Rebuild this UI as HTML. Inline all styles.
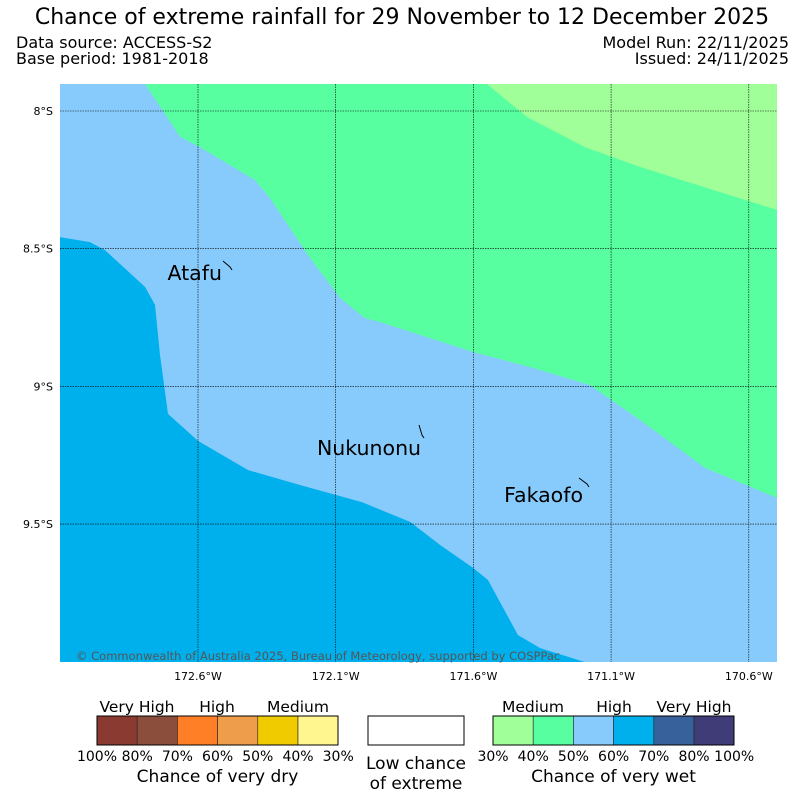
<!DOCTYPE html>
<html><head><meta charset="utf-8"><style>
html,body{margin:0;padding:0;background:#fff;}
svg{display:block;font-family:"DejaVu Sans","Liberation Sans",sans-serif;}
</style></head><body>
<svg id="chart" width="804" height="804" viewBox="0 0 804 804">
<text x="402" y="24" text-anchor="middle" font-size="22">Chance of extreme rainfall for 29 November to 12 December 2025</text>
<text x="16" y="48" font-size="16">Data source: ACCESS-S2</text>
<text x="16" y="64" font-size="16">Base period: 1981-2018</text>
<text x="789" y="48" font-size="16" text-anchor="end">Model Run: 22/11/2025</text>
<text x="789" y="64" font-size="16" text-anchor="end">Issued: 24/11/2025</text>
<defs><clipPath id="mapclip"><rect x="60" y="84" width="717" height="578"/></clipPath></defs>
<g id="map" clip-path="url(#mapclip)">
<rect x="60" y="84" width="717" height="578" fill="#87cbfc"/>
</g>
<g id="grid"></g>
<g id="labels"></g>
<g id="places"></g>
<text x="76" y="660" font-size="11.5" fill="#555">© Commonwealth of Australia 2025, Bureau of Meteorology, supported by COSPPac</text>
<g id="legend"></g>
</svg>
<script>
const darkBlueLon=[173.101,172.992,172.938,172.792,172.756,172.738,172.709,172.600,172.418,172.230,172.005,171.830,171.721,171.601,171.547,171.438,171.358,171.195,173.101];
const darkBlueLat=[8.458,8.476,8.505,8.639,8.704,8.886,9.100,9.198,9.304,9.358,9.420,9.492,9.576,9.659,9.703,9.903,9.950,10.001,10.001];
const greenLon=[172.792,172.665,172.593,172.393,172.339,172.193,172.084,171.994,171.939,171.601,171.394,171.177,170.995,170.759,170.498,170.498];
const greenLat=[7.902,8.094,8.131,8.251,8.316,8.534,8.679,8.752,8.766,8.875,8.930,8.995,9.122,9.296,9.405,7.902];
const lightGreenLon=[171.551,171.405,171.195,170.995,170.777,170.498,170.498];
const lightGreenLat=[7.902,8.022,8.131,8.203,8.272,8.359,7.902];
const lonTicks=[172.6,172.1,171.6,171.1,170.6];
const latTicks=[8,8.5,9,9.5];
const placeNames=["Atafu","Nukunonu","Fakaofo"];
const placeLon=[172.513,171.790,171.202];
const placeLat=[8.614,9.249,9.420];
const dryLabels=["100%","80%","70%","60%","50%","40%","30%"];
const dryColors=["#8b3a32","#8b4d3c","#ff7f27","#ee9e4a","#f0cb00","#fff68f"];
const wetLabels=["30%","40%","50%","60%","70%","80%","100%"];
const wetColors=["#a0ff98","#57ffa0","#87cbfc","#00b0ec","#37619b","#3f3c78"];

const S=275.4;
const xOf=lonW=>198-(lonW-172.6)*S;
const yOf=latS=>111+(latS-8)*S;
const NS="http://www.w3.org/2000/svg";
function mk(tag,attrs,parent){const e=document.createElementNS(NS,tag);for(const k in attrs)e.setAttribute(k,attrs[k]);parent.appendChild(e);return e;}
const map=document.getElementById('map');
function poly(lons,lats,fill,name){
  const pts=lons.map((l,i)=>xOf(l).toFixed(1)+','+yOf(lats[i]).toFixed(1)).join(' ');
  const p=mk('polygon',{points:pts,fill:fill},map);
  
  
}
poly(darkBlueLon,darkBlueLat,"#00b0ec","region-60-70");
poly(greenLon,greenLat,"#57ffa0","region-40-50");
poly(lightGreenLon,lightGreenLat,"#a0ff98","region-30-40");

const grid=document.getElementById('grid'),labels=document.getElementById('labels');
lonTicks.forEach(l=>{
  const x=xOf(l);
  const g=mk('line',{x1:x,x2:x,y1:84,y2:662,stroke:"#000","stroke-width":0.6,"stroke-dasharray":"1.5,1"},grid);
  
  
  const t=mk('text',{x:x,y:680,"font-size":11,"text-anchor":"middle"},labels);
  t.textContent=l.toFixed(1)+"°W";
  
  
});
latTicks.forEach(l=>{
  const y=yOf(l);
  const g=mk('line',{x1:60,x2:777,y1:y,y2:y,stroke:"#000","stroke-width":0.6,"stroke-dasharray":"1.5,1"},grid);
  
  
  const t=mk('text',{x:53,y:y+4,"font-size":11,"text-anchor":"end"},labels);
  t.textContent=(Number.isInteger(l)?l:l.toFixed(1))+"°S";
  
  
});
const places=document.getElementById('places');
const markerDx=[[223,261,232,270],[419,425,424,438],[579,478,589,487]];
placeNames.forEach((n,i)=>{
  const x=xOf(placeLon[i]),y=yOf(placeLat[i]);
  const t=mk('text',{x:x,y:y,"font-size":20.5,"text-anchor":"end"},places);
  t.textContent=n;
  
  
  const m=markerDx[i];
  const ln=mk('polyline',{points:`${m[0]},${m[1]} ${m[2]-2},${m[3]-3} ${m[2]},${m[3]}`,fill:"none",stroke:"#000","stroke-width":1},places);
  
  
});
const leg=document.getElementById('legend');
function bar(x0,colors,labs,cats,catX,title,prefix){
  colors.forEach((c,i)=>{
    const r=mk('rect',{x:x0+i*40.2,y:716,width:40.2,height:29,fill:c,stroke:"#222","stroke-width":0.6},leg);
    
    
  });
  mk('rect',{x:x0,y:716,width:241,height:29,fill:"none",stroke:"#000","stroke-width":1},leg);
  labs.forEach((l,i)=>{
    const t=mk('text',{x:x0+i*40.2,y:761,"font-size":14,"text-anchor":"middle"},leg);
    t.textContent=l;
    
    
  });
  cats.forEach((c,i)=>{
    const t=mk('text',{x:catX[i],y:712,"font-size":15.5,"text-anchor":"middle"},leg);
    t.textContent=c;
    
    
  });
  const t=mk('text',{x:x0+120.5,y:782,"font-size":17,"text-anchor":"middle"},leg);
  t.textContent=title;
  
  
}
bar(97,dryColors,dryLabels,["Very High","High","Medium"],[137,217,298],"Chance of very dry","dry");
bar(493,wetColors,wetLabels,["Medium","High","Very High"],[533,614,694],"Chance of very wet","wet");
const lb=mk('rect',{x:368,y:716,width:96,height:29,fill:"#fff",stroke:"#000","stroke-width":1},leg);


const l1=mk('text',{x:416,y:769,"font-size":17,"text-anchor":"middle"},leg);
l1.textContent="Low chance";


const l2=mk('text',{x:416,y:789,"font-size":17,"text-anchor":"middle"},leg);
l2.textContent="of extreme";


</script>
</body></html>
